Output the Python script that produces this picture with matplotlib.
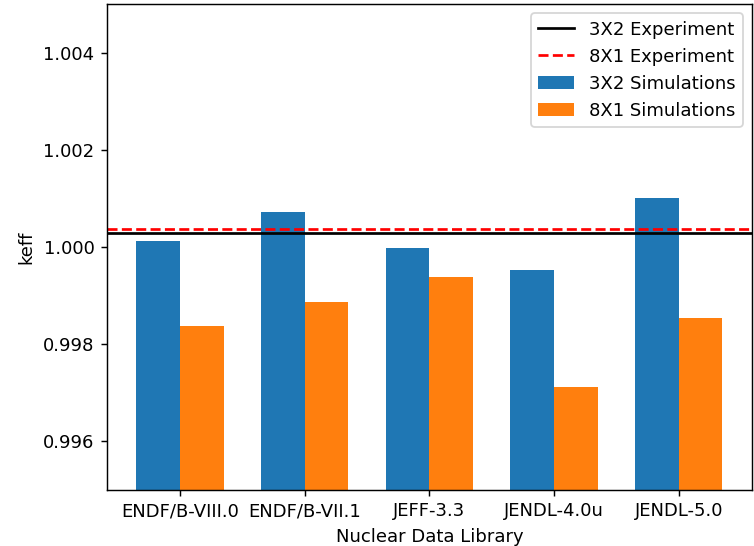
import matplotlib
matplotlib.use("Agg")
import matplotlib.pyplot as plt
import numpy as np

# nuclear data libraries and keff values
libraries = ['ENDF/B-VIII.0', 'ENDF/B-VII.1', 'JEFF-3.3', 'JENDL-4.0u', 'JENDL-5.0']
keff_3x2 = [1.00012, 1.00072, 0.99999, 0.99953, 1.00102]
keff_8x1 = [0.99838, 0.99886, 0.99939, 0.99711, 0.99853]
exp_3x2 = 1.00028
exp_8x1 = 1.00038

x = np.arange(len(libraries))
width = 0.35

# bigger dpi so the text is scaled like in the original
fig, ax = plt.subplots(figsize=(754/130, 546/130), dpi=130)
fig.subplots_adjust(left=0.142, right=0.997, top=0.992, bottom=0.103)

l1 = ax.axhline(exp_3x2, color='black', label='3X2 Experiment')
l2 = ax.axhline(exp_8x1, color='red', linestyle='--', label='8X1 Experiment')
b1 = ax.bar(x - width/2, keff_3x2, width, label='3X2 Simulations')
b2 = ax.bar(x + width/2, keff_8x1, width, label='8X1 Simulations')

ax.set_ylim(0.995, 1.005)
ax.set_yticks([0.996, 0.998, 1.000, 1.002, 1.004])
ax.set_xticks(x)
ax.set_xticklabels(libraries)
ax.set_xlabel('Nuclear Data Library')
ax.set_ylabel('keff')
ax.legend(handles=[l1, l2, b1, b2], loc='upper right')

fig.savefig('out.png', dpi=130)
